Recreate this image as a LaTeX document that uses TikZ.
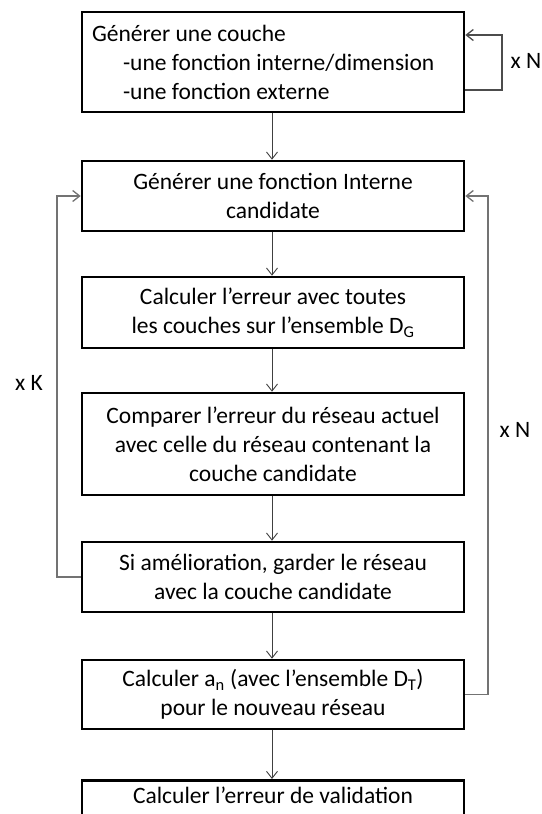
\documentclass[tikz,border=0pt]{standalone}
\usepackage{fontspec}
\setmainfont{Carlito}
\usetikzlibrary{arrows.meta}
\tikzset{
  etape/.style={draw, line width=2.6pt, minimum width=382pt, minimum height=#1,
    inner sep=0pt, align=center, font=\fontsize{23.5}{29}\selectfont},
  fleche/.style={draw=black!75, line width=0.9pt, -{Straight Barb[length=7pt,width=11pt]}},
  retour/.style={draw=black!55, line width=1.3pt, -{Straight Barb[length=7pt,width=11pt]}},
  boucle/.style={font=\fontsize{23.5}{29}\selectfont}
}
\begin{document}
\begin{tikzpicture}[x=1pt,y=-1pt]
   \useasboundingbox (0,0) rectangle (541,814);
   % les etapes
   \node[etape=100pt, align=flush left, text width=362pt, inner xsep=10pt] (couche) at (273,62)
      {Générer une couche\\
       \hspace*{31pt}-une fonction interne/dimension\\
       \hspace*{31pt}-une fonction externe};
   \node[etape=70pt] (candidate) at (273,196) {Générer une fonction Interne\\candidate};
   \node[etape=71pt] (erreur) at (273,312.5) {Calculer l’erreur avec toutes\\les couches sur l’ensemble D\textsubscript{G}};
   \node[etape=102pt] (comparer) at (273,444) {Comparer l’erreur du réseau actuel\\avec celle du réseau contenant la\\couche candidate};
   \node[etape=70pt] (garder) at (273,577) {Si amélioration, garder le réseau\\avec la couche candidate};
   \node[etape=69pt] (an) at (273,694.5) {Calculer a\textsubscript{n} (avec l’ensemble D\textsubscript{T})\\pour le nouveau réseau};
   \node[etape=0pt, anchor=north, inner ysep=7pt] (valid) at (273,779) {Calculer l’erreur de validation\\\strut};

   % les fleches
   \foreach \a/\b in {couche/candidate, candidate/erreur, erreur/comparer, comparer/garder, garder/an, an/valid}
   {
       \draw[fleche] (\a.south -| 272,0) -- (\b.north -| 272,0);
   }

   % les boucles
   \draw[retour, draw=black!70] (couche.east |- 0,90) -- (502,90) -- (502,35) -- (couche.east |- 0,35);
   \node[boucle] (xn1) at (526,61) {x N};
   \draw[retour] (garder.west) -- (57,577) -- (57,196) -- (candidate.west);
   \node[boucle] (xk) at (29,383) {x K};
   \draw[retour] (an.east) -- (488,694.5) -- (488,196) -- (candidate.east);
   \node[boucle] (xn2) at (515,430) {x N};
\end{tikzpicture}
\end{document}
